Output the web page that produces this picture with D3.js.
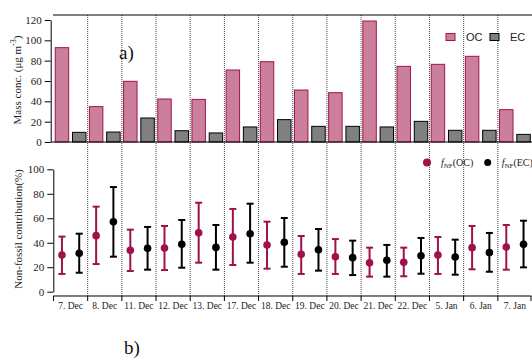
<!DOCTYPE html>
<html>
<head>
<meta charset="utf-8">
<script src="https://cdn.jsdelivr.net/npm/d3@7"></script>
<style>
  body { margin: 0; background: #fff; }
  svg { display: block; }
  .tick text { font-family: "Liberation Serif", "Times New Roman", serif; font-size: 11px; fill: #222; }
  .tick line, .domain { stroke: #000; }
</style>
</head>
<body>
<svg id="chart" width="532" height="359"></svg>
<script>
// sampling days
const dates = ["7. Dec","8. Dec","11. Dec","12. Dec","13. Dec","17. Dec","18. Dec",
               "19. Dec","20. Dec","21. Dec","22. Dec","5. Jan","6. Jan","7. Jan"];

// a) mass concentrations (ug m-3)
const ocMass = [92.8, 34.8, 59.7, 42.3, 41.9, 70.8, 79, 51.1, 48.5, 119, 74.4, 76.4, 84.3, 31.8];
const ecMass = [9.5, 9.8, 23.6, 11.1, 8.9, 14.8, 22, 15.4, 15.4, 14.8, 20.3, 11.5, 11.5, 7.5];

// b) non-fossil fraction (%) with error range
const fnfOC     = [30, 45.8, 33.8, 35.7, 48.2, 44.7, 38.2, 30.5, 28.6, 23.7, 24, 30, 36, 36.5];
const fnfOCLow  = [14.5, 22.6, 16.9, 17.7, 23.7, 21.8, 18.8, 14.5, 14.5, 12.3, 12.6, 14.5, 18.3, 18];
const fnfOCHigh = [45, 69.5, 50.7, 53.7, 72.7, 67.6, 57.2, 45.5, 43, 36, 36, 44.7, 53.7, 54.5];
const fnfEC     = [31.4, 57.2, 35.4, 38.7, 36.2, 47.4, 40.3, 34.3, 27.8, 25.7, 29.4, 28.3, 31.9, 38.7];
const fnfECLow  = [15.5, 28.6, 18, 19.6, 18, 23.7, 20.4, 17.2, 13.6, 12.3, 14.7, 13.9, 16.3, 19.9];
const fnfECHigh = [47.4, 85.5, 52.9, 58.6, 54.5, 71.9, 60.2, 51.2, 41.7, 38.2, 43.9, 42.5, 48, 58];

const yTicksTop = [0, 20, 40, 60, 80, 100, 120];
const yTicksBot = [0, 20, 40, 60, 80, 100];

const ocFill = "#cc7f9c", ocLine = "#a0144b", ecFill = "#808080", ptOC = "#a0104a";
const serif = "'Liberation Serif', 'Times New Roman', serif";
const sans = "'Liberation Sans', Arial, sans-serif";

const svg = d3.select("#chart");

const x = d3.scaleBand().domain(dates).range([53.5, 532]);
const sub = d3.scaleBand().domain(["OC","EC"]).range([0, x.bandwidth()]).paddingInner(0.22).paddingOuter(0.1);
const yTop = d3.scaleLinear().domain([0, 120]).range([142, 20]);
const yBot = d3.scaleLinear().domain([0, 100]).range([291.7, 169.3]);

// dotted day separators through both panels
svg.append("g").selectAll("line").data(dates.slice(1)).join("line")
  .attr("x1", d => x(d)).attr("x2", d => x(d))
  .attr("y1", 15).attr("y2", 296)
  .attr("stroke", "#444").attr("stroke-width", 1).attr("stroke-dasharray", "1,1");

// top frame line
svg.append("line").attr("x1", 53).attr("x2", 532).attr("y1", 15).attr("y2", 15)
  .attr("stroke", "#000").attr("stroke-width", 1.2);

// ---- panel a
const rows = dates.map((d, i) => ({d, oc: ocMass[i], ec: ecMass[i]}));
const gA = svg.append("g");
gA.selectAll("rect.oc").data(rows).join("rect").attr("class", "oc")
  .attr("x", r => x(r.d) + sub("OC")).attr("width", sub.bandwidth())
  .attr("y", r => yTop(r.oc)).attr("height", r => yTop(0) - yTop(r.oc))
  .attr("fill", ocFill).attr("stroke", ocLine).attr("stroke-width", 1);
gA.selectAll("rect.ec").data(rows).join("rect").attr("class", "ec")
  .attr("x", r => x(r.d) + sub("EC")).attr("width", sub.bandwidth())
  .attr("y", r => yTop(r.ec)).attr("height", r => yTop(0) - yTop(r.ec))
  .attr("fill", ecFill).attr("stroke", "#000").attr("stroke-width", 1);

svg.append("line").attr("x1", 51).attr("x2", 532).attr("y1", 142).attr("y2", 142)
  .attr("stroke", "#000").attr("stroke-width", 1.2);

svg.append("g").attr("transform", "translate(50.7,0)")
  .call(d3.axisLeft(yTop).tickValues(yTicksTop).tickSize(6).tickSizeOuter(0).tickPadding(3));

svg.append("text").attr("transform", "translate(21,80) rotate(-90)")
  .attr("text-anchor", "middle").attr("font-family", serif).attr("font-size", 11).attr("fill", "#222")
  .call(t => {
    t.append("tspan").text("Mass conc. (\u03bcg m");
    t.append("tspan").attr("font-size", 8).attr("dy", -5).text("-3");
    t.append("tspan").attr("dy", 5).text(")");
  });

svg.append("text").attr("x", 119).attr("y", 59).attr("font-family", serif).attr("font-size", 19)
  .attr("fill", "#111").text("a)");

// legend a
const legA = [{k: "OC", fill: ocFill, stroke: ocLine, x: 446}, {k: "EC", fill: ecFill, stroke: "#000", x: 490}];
legA.forEach(l => {
  svg.append("rect").attr("x", l.x).attr("y", 33.5).attr("width", 9).attr("height", 7)
    .attr("fill", l.fill).attr("stroke", l.stroke);
  svg.append("text").attr("x", l.x + 20).attr("y", 41).attr("font-family", sans).attr("font-size", 11)
    .attr("fill", "#222").text(l.k);
});

// ---- panel b
svg.append("g").attr("transform", "translate(53.3,0)")
  .call(d3.axisLeft(yBot).tickValues(yTicksBot).tickSize(6).tickSizeOuter(0).tickPadding(3));

// bottom category axis
svg.append("line").attr("x1", 53).attr("x2", 531.5).attr("y1", 296).attr("y2", 296)
  .attr("stroke", "#000").attr("stroke-width", 1.2);
svg.append("g").selectAll("line").data(dates.concat(["end"])).join("line")
  .attr("x1", (d, i) => i < dates.length ? x(d) : 531)
  .attr("x2", (d, i) => i < dates.length ? x(d) : 531)
  .attr("y1", 296).attr("y2", 301).attr("stroke", "#000");
svg.append("g").selectAll("text").data(dates).join("text")
  .attr("x", d => x(d) + x.bandwidth() / 2).attr("y", 309)
  .attr("text-anchor", "middle").attr("font-family", serif).attr("font-size", 9.5).attr("fill", "#222")
  .text(d => d);

const pts = dates.map((d, i) => ({d,
  oc: fnfOC[i], ocLo: fnfOCLow[i], ocHi: fnfOCHigh[i],
  ec: fnfEC[i], ecLo: fnfECLow[i], ecHi: fnfECHigh[i]}));
const series = [
  {k: "OC", col: ptOC, v: "oc", lo: "ocLo", hi: "ocHi"},
  {k: "EC", col: "#000", v: "ec", lo: "ecLo", hi: "ecHi"}
];
series.forEach(s => {
  const cx = p => x(p.d) + sub(s.k) + sub.bandwidth() / 2;
  const g = svg.append("g").attr("stroke", s.col).attr("stroke-width", 2);
  g.selectAll("line.v").data(pts).join("line").attr("class", "v")
    .attr("x1", cx).attr("x2", cx).attr("y1", p => yBot(p[s.lo])).attr("y2", p => yBot(p[s.hi]));
  g.selectAll("line.hi").data(pts).join("line").attr("class", "hi")
    .attr("x1", p => cx(p) - 3.5).attr("x2", p => cx(p) + 3.5)
    .attr("y1", p => yBot(p[s.hi])).attr("y2", p => yBot(p[s.hi]));
  g.selectAll("line.lo").data(pts).join("line").attr("class", "lo")
    .attr("x1", p => cx(p) - 3.5).attr("x2", p => cx(p) + 3.5)
    .attr("y1", p => yBot(p[s.lo])).attr("y2", p => yBot(p[s.lo]));
  svg.append("g").selectAll("circle").data(pts).join("circle")
    .attr("cx", cx).attr("cy", p => yBot(p[s.v])).attr("r", 3.8).attr("fill", s.col);
});

svg.append("text").attr("transform", "translate(22,229) rotate(-90)")
  .attr("text-anchor", "middle").attr("font-family", serif).attr("font-size", 11).attr("fill", "#222")
  .text("Non-fossil contribution(%)");

// legend b
const legB = [{k: "OC", col: ptOC, x: 427, r: 4}, {k: "EC", col: "#000", x: 487.7, r: 3.5}];
legB.forEach(l => {
  svg.append("circle").attr("cx", l.x).attr("cy", 162.5).attr("r", l.r).attr("fill", l.col);
  svg.append("text").attr("x", l.x + 14).attr("y", 166).attr("font-family", serif).attr("font-size", 10)
    .attr("fill", "#222")
    .call(t => {
      t.append("tspan").attr("font-style", "italic").text("f");
      t.append("tspan").attr("font-size", 7).attr("dy", 2).text("NF");
      t.append("tspan").attr("dy", -2).text("(" + l.k + ")");
    });
});

svg.append("text").attr("x", 124).attr("y", 354).attr("font-family", serif).attr("font-size", 19)
  .attr("fill", "#111").text("b)");
</script>
</body>
</html>
